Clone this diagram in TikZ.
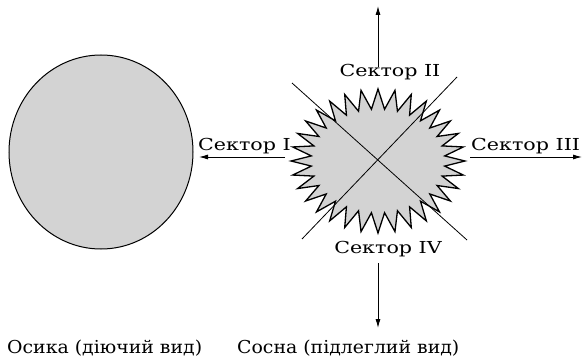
\documentclass[tikz,border=0pt]{standalone}
\usepackage{fontspec}
\setmainfont{DejaVu Serif}
\newfontfamily\secfont[FakeStretch=1.25]{DejaVu Serif}
\newfontfamily\capfont[FakeStretch=1.06]{DejaVu Serif}
\usetikzlibrary{shapes.geometric,arrows.meta}
\definecolor{fillgray}{RGB}{211,211,211}
\begin{document}
\begin{tikzpicture}[x=1pt,y=-1pt,
  lbl/.style={inner sep=0pt,font=\secfont\fontsize{16.5}{19}\selectfont},
  captext/.style={inner sep=0pt,font=\capfont\fontsize{17.8}{20}\selectfont},
  arr/.style={line width=0.9pt,-{Latex[length=9pt,width=5pt]}},
  diag/.style={line width=0.8pt},
  starline/.style={line width=1.3pt,fill=fillgray,line join=miter}]
\useasboundingbox (0,0) rectangle (583,361);
% aspen
\node[ellipse,draw,line width=1pt,fill=fillgray,minimum width=184pt,minimum height=194pt,inner sep=0pt] (aspen) at (101,152) {};
% pine star
\coordinate (pine) at (378,161);
\draw[starline] (465,161) \foreach \i [evaluate=\i as \f using {mod(\i,2)}] in {1,...,63} { -- ({378+(87-20*\f)*cos(\i*5.625)},{161+(72-20*\f)*sin(\i*5.625)}) } -- cycle;
% diagonals
\coordinate (d1a) at (292,83);
\coordinate (d1b) at (467,240);
\coordinate (d2a) at (457,77);
\coordinate (d2b) at (302,239);
\draw[diag] (d1a) -- (d1b);
\draw[diag] (d2a) -- (d2b);
% arrows
\coordinate (upS) at (378,67);  \coordinate (upE) at (378,6);
\coordinate (dnS) at (378,263); \coordinate (dnE) at (378,328);
\coordinate (rtS) at (470,157); \coordinate (rtE) at (582,157);
\coordinate (ltS) at (285,157); \coordinate (ltE) at (199,157);
\draw[arr] (upS) -- (upE);
\draw[arr] (dnS) -- (dnE);
\draw[arr] (rtS) -- (rtE);
\draw[arr] (ltS) -- (ltE);
% labels
\node[lbl,anchor=base west] (s1) at (198,150) {Сектор I};
\node[lbl,anchor=base] (s2) at (390,76) {Сектор II};
\node[lbl,anchor=base west] (s3) at (471,150) {Сектор III};
\node[lbl,anchor=base] (s4) at (388,253) {Сектор IV};
\node[captext,anchor=base west] (t1) at (7,353) {Осика (діючий вид)};
\node[captext,anchor=base west] (t2) at (237,353) {Сосна (підлеглий вид)};
\end{tikzpicture}
\end{document}
